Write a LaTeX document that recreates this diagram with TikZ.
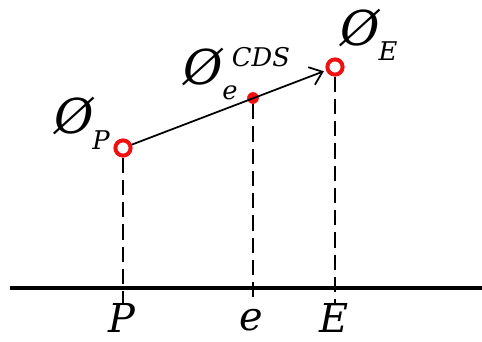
\documentclass[tikz,border=0pt]{standalone}
\usepackage{fontspec}
\setmainfont{DejaVu Serif}
\usetikzlibrary{arrows.meta}
\definecolor{ringred}{HTML}{F01010}
\tikzset{
  ring/.style  = {circle, draw=ringred, line width=3.4pt, fill=white, minimum size=13pt, inner sep=0pt},
  dot/.style   = {circle, fill=ringred, minimum size=10pt, inner sep=0pt},
  drop/.style  = {line width=1.7pt, dash pattern=on 13pt off 6pt},
  axis/.style  = {line width=3pt},
  sig/.style   = {-{Straight Barb[length=10pt,width=16pt]}, line width=1.5pt, shorten >=2pt},
  big/.style   = {font=\fontsize{34}{38}\selectfont\itshape, inner sep=0pt},
  slash/.style = {font=\fontsize{41}{44}\selectfont\itshape, inner sep=0pt},
  small/.style = {font=\fontsize{22}{24}\selectfont\itshape, inner sep=0pt},
}
\begin{document}
\begin{tikzpicture}[x=0.3mm,y=-0.3mm]
  \useasboundingbox (0,0) rectangle (482,342);
  % points on the path
  \node[ring] (p) at (123,148) {};
  \node[dot]  (e) at (253,98) {};
  \node[ring] (E) at (335,67) {};
  % ground line and feet
  \draw[axis] (10,288) -- (482,288);
  \coordinate (pfoot) at (123,303);
  \coordinate (efoot) at (253,303);
  \coordinate (Efoot) at (335,303);
  \draw[drop] (p) -- (pfoot);
  \draw[drop] (e) -- (efoot);
  \draw[drop] (E) -- (Efoot);
  \draw[sig] (p) -- (E);
  % labels
  \node[big] (lp) at (122,318) {P};
  \node[big] (le) at (251,320) {e};
  \node[big] (lE) at (334,318) {E};
  \node[slash] (op) at (74,116) {Ø};
  \node[small] (sp) at (101,140) {P};
  \node[slash] (oe) at (203,67) {Ø};
  \node[small] (se) at (230,93) {e};
  \node[small] (sc) at (261,57) {CDS};
  \node[slash] (oE) at (360,28) {Ø};
  \node[small] (sE) at (388,51) {E};
\end{tikzpicture}
\end{document}
